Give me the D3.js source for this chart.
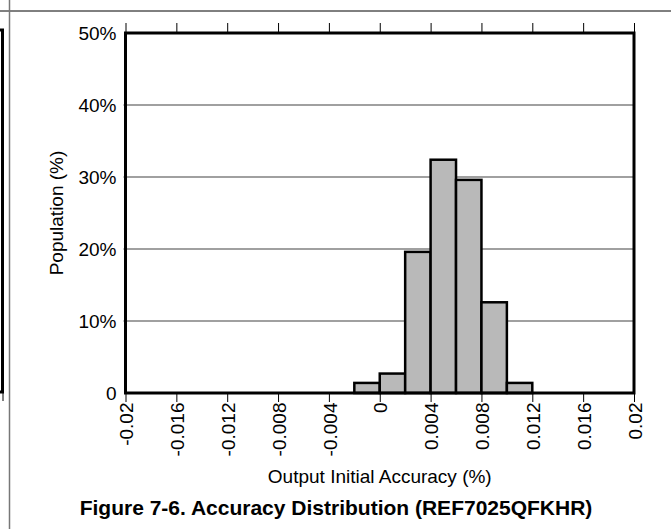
<!DOCTYPE html>
<html>
<head>
<meta charset="utf-8">
<script src="https://cdn.jsdelivr.net/npm/d3@7"></script>
<style>
  body { margin: 0; background: #fff; }
  svg { display: block; font-family: "Liberation Sans", Arial, sans-serif; }
</style>
</head>
<body>
<svg id="chart" width="671" height="529"></svg>
<script>
  // bins of 0.002 (%), left edge of each bin
  var binStarts = [-0.002, 0, 0.002, 0.004, 0.006, 0.008, 0.010];
  var binWidth = 0.002;
  var population = [1.4, 2.7, 19.6, 32.4, 29.6, 12.6, 1.4];
  var xTicks = [-0.02, -0.016, -0.012, -0.008, -0.004, 0, 0.004, 0.008, 0.012, 0.016, 0.02];
  var yTicks = [0, 10, 20, 30, 40, 50];

  var svg = d3.select("#chart");

  var margin = { top: 33, right: 37, bottom: 136, left: 125.5 };
  var width = 671 - margin.left - margin.right;
  var height = 529 - margin.top - margin.bottom;

  // decoration: page lines + edge of the neighbouring chart
  svg.append("line").attr("x1", 0).attr("x2", 671).attr("y1", 11).attr("y2", 11)
    .attr("stroke", "#000").attr("stroke-width", 1);
  svg.append("line").attr("x1", 9.5).attr("x2", 9.5).attr("y1", 0).attr("y2", 529)
    .attr("stroke", "#777").attr("stroke-width", 1.5);
  svg.append("rect").attr("x", -50).attr("y", 30).attr("width", 52.5).attr("height", 362)
    .attr("fill", "none").attr("stroke", "#000").attr("stroke-width", 3);
  svg.append("line").attr("x1", 3).attr("x2", 3).attr("y1", 392).attr("y2", 401)
    .attr("stroke", "#000").attr("stroke-width", 1);

  var g = svg.append("g").attr("transform", "translate(" + margin.left + "," + margin.top + ")");

  var x = d3.scaleLinear().domain([-0.02, 0.02]).range([0, width]);
  var y = d3.scaleLinear().domain([0, 50]).range([height, 0]);

  // gridlines
  g.selectAll(".grid").data(yTicks.slice(1, -1)).enter().append("line")
    .attr("x1", -2).attr("x2", width)
    .attr("y1", function (d) { return y(d); }).attr("y2", function (d) { return y(d); })
    .attr("stroke", "#808080").attr("stroke-width", 1.5);

  // bars
  g.selectAll(".bar").data(population).enter().append("rect")
    .attr("x", function (d, i) { return x(binStarts[i]); })
    .attr("y", function (d) { return y(d); })
    .attr("width", function (d, i) { return x(binStarts[i] + binWidth) - x(binStarts[i]); })
    .attr("height", function (d) { return height - y(d); })
    .attr("fill", "#b9b9b9").attr("stroke", "#000").attr("stroke-width", 2.5);

  // bottom axis
  var xAxis = g.append("g").attr("transform", "translate(0," + height + ")")
    .call(d3.axisBottom(x).tickValues(xTicks).tickSize(9).tickPadding(2)
      .tickFormat(function (d) { return d === 0 ? "0" : String(+d.toFixed(3)); }));
  xAxis.select(".domain").remove();
  xAxis.selectAll(".tick line").attr("stroke", "#000").attr("stroke-width", 1);
  xAxis.selectAll(".tick text")
    .attr("font-size", 19).attr("fill", "#000")
    .attr("transform", "rotate(-90)")
    .attr("x", -9.5).attr("y", 0).attr("dy", "0.38em")
    .style("text-anchor", "end");

  // top ticks
  var topAxis = g.append("g")
    .call(d3.axisTop(x).tickValues(xTicks).tickSize(10).tickFormat(""));
  topAxis.select(".domain").remove();
  topAxis.selectAll(".tick line").attr("stroke", "#000").attr("stroke-width", 1);

  // left axis labels
  var yAxis = g.append("g")
    .call(d3.axisLeft(y).tickValues(yTicks).tickSize(0).tickPadding(9)
      .tickFormat(function (d) { return d === 0 ? "0" : d + "%"; }));
  yAxis.select(".domain").remove();
  yAxis.selectAll(".tick text").attr("font-size", 19).attr("fill", "#000");

  // plot frame
  g.append("rect").attr("x", 0).attr("y", 0).attr("width", width).attr("height", height)
    .attr("fill", "none").attr("stroke", "#000").attr("stroke-width", 3);

  // titles
  svg.append("text").attr("x", margin.left + width / 2).attr("y", 483)
    .attr("text-anchor", "middle").attr("font-size", 19).attr("fill", "#000")
    .text("Output Initial Accuracy (%)");

  svg.append("text")
    .attr("transform", "translate(63," + (margin.top + height / 2) + ") rotate(-90)")
    .attr("text-anchor", "middle").attr("font-size", 19).attr("fill", "#000")
    .text("Population (%)");

  svg.append("text").attr("x", 336).attr("y", 515)
    .attr("text-anchor", "middle").attr("font-size", 21).attr("font-weight", "bold").attr("fill", "#000")
    .text("Figure 7-6. Accuracy Distribution (REF7025QFKHR)");
</script>
</body>
</html>
